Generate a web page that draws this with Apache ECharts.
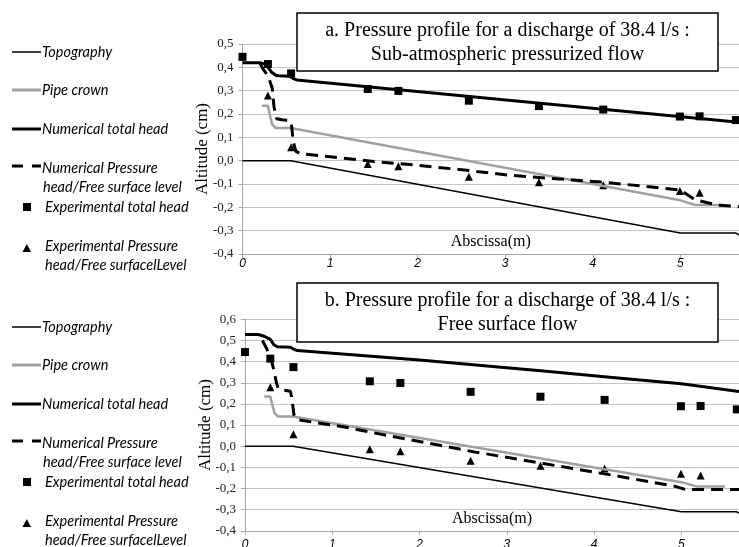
<!DOCTYPE html>
<html><head><meta charset="utf-8">
<script src="https://cdn.jsdelivr.net/npm/echarts@6/dist/echarts.min.js"></script>
<style>html,body{margin:0;padding:0;background:#fff}#c{width:739px;height:547px}</style>
</head><body><div id="c"></div>
<script>
// ---- data (metres / altitude) ----
const topoX  = [0, 0.55, 5.0, 5.63, 5.67];
const topoY  = [0, 0, -0.31, -0.31, -0.318];
const crownX = [0.22, 0.29, 0.31, 0.34, 0.38, 0.55, 5.0, 5.17, 5.5];
const crownY = [0.235, 0.235, 0.2, 0.155, 0.14, 0.14, -0.17, -0.19, -0.19];

const headAX = [0, 0.2, 0.25, 0.28, 0.33, 0.38, 0.41, 0.54, 0.58, 0.62, 5.67];
const headAY = [0.42, 0.42, 0.415, 0.405, 0.38, 0.366, 0.364, 0.362, 0.352, 0.346, 0.165];
const pressAX = [0.2, 0.24, 0.295, 0.34, 0.36, 0.39, 0.45, 0.54, 0.56, 0.58, 0.61, 0.66, 1.0, 1.5, 1.95, 2.53, 3.02, 3.48, 4.05, 4.6, 5.0, 5.17, 5.42, 5.67];
const pressAY = [0.415, 0.39, 0.36, 0.31, 0.23, 0.18, 0.175, 0.172, 0.15, 0.08, 0.04, 0.03, 0.017, -0.004, -0.018, -0.04, -0.061, -0.075, -0.09, -0.11, -0.126, -0.168, -0.19, -0.197];

const headBX = [0, 0.15, 0.22, 0.29, 0.33, 0.37, 0.52, 0.56, 0.6, 2.0, 3.42, 4.21, 5.0, 5.67];
const headBY = [0.528, 0.528, 0.52, 0.505, 0.48, 0.47, 0.468, 0.458, 0.452, 0.408, 0.355, 0.325, 0.295, 0.258];
const pressBX = [0.2, 0.25, 0.3, 0.33, 0.36, 0.38, 0.44, 0.52, 0.54, 0.56, 0.6, 1.14, 1.69, 2.63, 3.42, 4.21, 4.92, 5.05, 5.67];
const pressBY = [0.5, 0.46, 0.41, 0.36, 0.3, 0.275, 0.265, 0.26, 0.22, 0.15, 0.125, 0.091, 0.046, -0.027, -0.082, -0.137, -0.189, -0.205, -0.205];

const expHeadX = [0, 0.29, 0.555, 1.43, 1.78, 2.585, 3.385, 4.12, 4.995, 5.22, 5.635];
const expHeadY = [0.445, 0.414, 0.374, 0.307, 0.299, 0.257, 0.234, 0.219, 0.189, 0.19, 0.174];
const expPressX = [0.29, 0.555, 1.43, 1.78, 2.585, 3.385, 4.12, 4.995, 5.22];
const expPressY = [0.279, 0.057, -0.014, -0.024, -0.069, -0.092, -0.105, -0.13, -0.138];

const legendNames = ['Topography', 'Pipe crown', 'Numerical total head',
  'Numerical Pressure\nhead/Free surface level', 'Experimental total head',
  'Experimental Pressure\nhead/Free surfacelLevel'];
const titleA = ['a. Pressure profile for a discharge of 38.4 l/s :', 'Sub-atmospheric pressurized flow'];
const titleB = ['b. Pressure profile for a discharge of 38.4 l/s :', 'Free surface flow'];
const xName = 'Abscissa(m)';
const yName = 'Altitude (cm)';

const zip = (xs, ys) => xs.map((x, i) => [x, ys[i]]);
const GRID = '#c4c4c4', AXIS = '#a6a6a6', CROWN = '#a0a0a0';
const serif = 'Liberation Serif';
const sans = 'Lato';

function xAxis(gi, max, margin) {
  return {
    type: 'value', gridIndex: gi, min: 0, max: max, interval: 1,
    name: xName, nameLocation: 'middle', nameGap: -20, nameMoveOverlap: false,
    nameTextStyle: { fontFamily: serif, fontSize: 16, color: '#000' },
    axisLine: { show: true, onZero: false, lineStyle: { color: AXIS, width: 1 } },
    axisTick: { show: true, length: 4, lineStyle: { color: AXIS } },
    splitLine: { show: false },
    axisLabel: { fontFamily: 'Liberation Sans', fontStyle: 'italic', fontSize: 12, color: '#000', margin: margin,
      showMaxLabel: false, formatter: v => String(v) }
  };
}
function yAxis(gi, max) {
  return {
    type: 'value', gridIndex: gi, min: -0.4, max: max, interval: 0.1,
    name: yName, nameLocation: 'middle', nameGap: 31, nameMoveOverlap: false,
    nameTextStyle: { fontFamily: serif, fontSize: 17, color: '#000' },
    axisLine: { show: true, lineStyle: { color: AXIS, width: 1 } },
    axisTick: { show: true, length: 4, lineStyle: { color: AXIS } },
    splitLine: { show: true, lineStyle: { color: GRID, width: 1 } },
    axisLabel: { fontFamily: serif, fontSize: 13, color: '#222', margin: 9,
      formatter: v => v.toFixed(1).replace('.', ',') }
  };
}
function seriesFor(gi, headX, headY, pressX, pressY) {
  const base = { xAxisIndex: gi, yAxisIndex: gi, silent: true, animation: false };
  return [
    Object.assign({ type: 'line', name: legendNames[0], data: zip(topoX, topoY), symbol: 'none',
      lineStyle: { color: '#000', width: 1.5 } }, base),
    Object.assign({ type: 'line', name: legendNames[1], data: zip(crownX, crownY), symbol: 'none',
      lineStyle: { color: CROWN, width: 2.5 } }, base),
    Object.assign({ type: 'line', name: legendNames[2], data: zip(headX, headY), symbol: 'none',
      lineStyle: { color: '#000', width: 3 } }, base),
    Object.assign({ type: 'line', name: legendNames[3], data: zip(pressX, pressY), symbol: 'none',
      lineStyle: { color: '#000', width: 3, type: [12, 7] } }, base),
    Object.assign({ type: 'scatter', name: legendNames[4], data: zip(expHeadX, expHeadY), symbol: 'rect',
      symbolSize: 8, itemStyle: { color: '#000', opacity: 1 } }, base),
    Object.assign({ type: 'scatter', name: legendNames[5], data: zip(expPressX, expPressY), symbol: 'triangle',
      symbolSize: 8, itemStyle: { color: '#000', opacity: 1 } }, base)
  ];
}

function legendGraphic(yb) {
  const t = (txt, x, y) => ({ type: 'text', silent: true, style: { text: txt, x: x, y: y,
    fontFamily: sans, fontStyle: 'italic', fontSize: 14.5, fill: '#000',
    align: 'left', verticalAlign: 'middle', textVerticalAlign: 'middle' } });
  const ln = (y, w, c, dash) => ({ type: 'line', silent: true, shape: { x1: 12, y1: y, x2: 41, y2: y },
    style: { stroke: c, lineWidth: w, lineDash: dash || null } });
  return [
    ln(yb + 52, 1.5, '#000'), t(legendNames[0], 42, yb + 52),
    ln(yb + 90, 3, CROWN), t(legendNames[1], 42, yb + 90),
    ln(yb + 129, 3, '#000'), t(legendNames[2], 42, yb + 129),
    ln(yb + 166, 3, '#000', [11, 9]), t('Numerical Pressure', 42, yb + 168), t('head/Free surface level', 43, yb + 187),
    { type: 'rect', silent: true, shape: { x: 23, y: yb + 203, width: 8, height: 8 }, style: { fill: '#000' } },
    t(legendNames[4], 45, yb + 207),
    { type: 'polygon', silent: true, shape: { points: [[22.5, yb + 252], [31, yb + 252], [26.75, yb + 244]] }, style: { fill: '#000' } },
    t('Experimental Pressure', 45, yb + 246), t('head/Free surfacelLevel', 45, yb + 265)
  ];
}
function titleGraphic(x, y, w, h, lines) {
  const cx = x + w / 2;
  const tx = (s, ty) => ({ type: 'text', silent: true, z: 101, style: { text: s, x: cx, y: ty,
    align: 'center', verticalAlign: 'middle', textAlign: 'center', textVerticalAlign: 'middle',
    fontFamily: serif, fontSize: 20, fill: '#000' } });
  return [
    { type: 'rect', silent: true, z: 100, shape: { x: x, y: y, width: w, height: h },
      style: { fill: '#fff', stroke: '#000', lineWidth: 1.5 } },
    tx(lines[0], y + 17.5), tx(lines[1], y + 42)
  ];
}

const chart = echarts.init(document.getElementById('c'), null, { renderer: 'canvas' });
chart.setOption({
  backgroundColor: '#fff',
  animation: false,
  grid: [
    { left: 242.5, top: 44, right: 0, height: 210, outerBoundsMode: 'none', containLabel: false },
    { left: 245, top: 319.3, right: 0, height: 211.5, outerBoundsMode: 'none', containLabel: false }
  ],
  xAxis: [xAxis(0, 5.67, 4), xAxis(1, 5.66, 8)],
  yAxis: [yAxis(0, 0.5), yAxis(1, 0.6)],
  series: seriesFor(0, headAX, headAY, pressAX, pressAY).concat(seriesFor(1, headBX, headBY, pressBX, pressBY)),
  graphic: [].concat(legendGraphic(0), legendGraphic(275),
    titleGraphic(297, 13, 421, 58, titleA), titleGraphic(297, 283, 421, 59, titleB))
});
</script></body></html>
